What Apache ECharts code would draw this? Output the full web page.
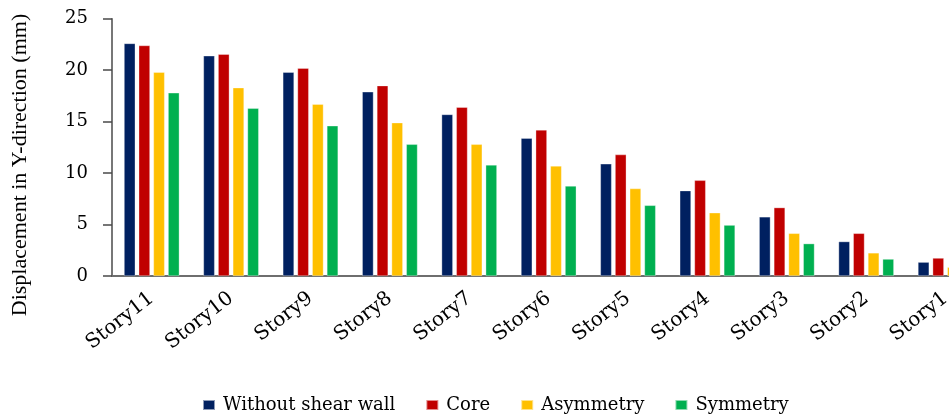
<!DOCTYPE html>
<html>
<head>
<meta charset="utf-8">
<script src="https://cdn.jsdelivr.net/npm/echarts@6/dist/echarts.min.js"></script>
<style>
  html, body { margin: 0; padding: 0; background: #ffffff; }
  #chart { width: 949px; height: 414px; }
</style>
</head>
<body>
<div id="chart"></div>
<script>
// Storey displacement in the Y direction for four shear-wall layouts
const categories = ['Story11', 'Story10', 'Story9', 'Story8', 'Story7', 'Story6',
                    'Story5', 'Story4', 'Story3', 'Story2', 'Story1'];
const withoutShearWall = [22.6, 21.4, 19.8, 17.9, 15.7, 13.4, 10.9, 8.3, 5.75, 3.35, 1.35];
const core             = [22.4, 21.55, 20.2, 18.5, 16.4, 14.2, 11.8, 9.3, 6.65, 4.15, 1.75];
const asymmetry        = [19.8, 18.3, 16.7, 14.9, 12.8, 10.7, 8.5, 6.15, 4.15, 2.25, 0.85];
const symmetry         = [17.8, 16.3, 14.6, 12.8, 10.8, 8.75, 6.87, 4.95, 3.15, 1.65, 0.6];
const yTicks = { min: 0, max: 25, interval: 5 };

const serif = 'DejaVu Serif';
const titleFont = 'Liberation Serif';

const seriesDefs = [
  { name: 'Without shear wall', data: withoutShearWall, color: '#002060' },
  { name: 'Core',               data: core,             color: '#C00000' },
  { name: 'Asymmetry',          data: asymmetry,        color: '#FFC000' },
  { name: 'Symmetry',           data: symmetry,         color: '#00B050' }
];

const chart = echarts.init(document.getElementById('chart'), null, { renderer: 'canvas' });

chart.setOption({
  animation: false,
  backgroundColor: '#ffffff',
  // the plot runs past the right edge, so the last group is cut off
  grid: { left: 112, top: 18.7, width: 873.3, height: 257.3, containLabel: false, outerBoundsMode: 'none' },
  legend: {
    left: 197,
    top: 391,
    itemWidth: 12,
    itemHeight: 10,
    itemGap: 30,
    icon: 'rect',
    textStyle: { fontFamily: serif, fontSize: 18, color: '#000000', padding: [0, 0, 0, 3] },
    data: seriesDefs.map(s => s.name)
  },
  xAxis: {
    type: 'category',
    data: categories,
    axisLine: { lineStyle: { color: '#6e6e6e', width: 2 } },
    axisTick: { show: false },
    axisLabel: {
      rotate: 38,
      margin: 20,
      interval: 0,
      fontFamily: serif,
      fontSize: 20,
      color: '#000000'
    },
    splitLine: { show: false }
  },
  yAxis: {
    type: 'value',
    min: yTicks.min,
    max: yTicks.max,
    interval: yTicks.interval,
    axisLine: { show: true, lineStyle: { color: '#4a4a4a', width: 1.5 } },
    axisTick: { show: true, inside: false, length: 9, lineStyle: { color: '#4a4a4a', width: 1.5 } },
    axisLabel: { margin: 24, fontFamily: serif, fontSize: 18, color: '#000000' },
    splitLine: { show: false }
  },
  graphic: [{
    type: 'text',
    x: 20,
    y: 165,
    rotation: Math.PI / 2,
    style: {
      text: 'Displacement in Y-direction (mm)',
      fontFamily: titleFont,
      fontSize: 22,
      fill: '#000000',
      align: 'center',
      verticalAlign: 'middle'
    }
  }],
  series: seriesDefs.map(s => ({
    name: s.name,
    type: 'bar',
    data: s.data,
    barWidth: 11.3,
    barGap: '30%',
    itemStyle: { color: s.color, borderColor: 'rgba(255,255,255,0.55)', borderWidth: 0.6 }
  }))
});
</script>
</body>
</html>
